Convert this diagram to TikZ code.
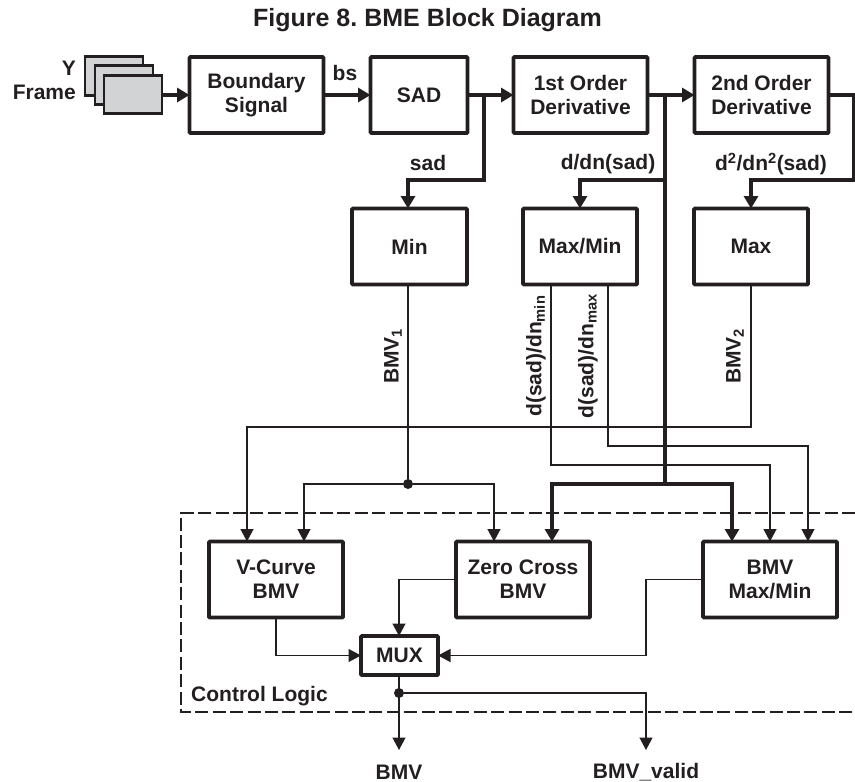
\documentclass[tikz,border=0pt]{standalone}
\usepackage{fontspec}
\setmainfont{Liberation Sans}
\usepackage{xcolor}
\usetikzlibrary{positioning, arrows.meta}
\definecolor{bmeInk}{HTML}{231F20}
\definecolor{bmeGrey}{HTML}{D1D3D4}
\frenchspacing
\tikzset{
  blockbox/.style={
    rectangle, rounded corners=0.8pt,
    draw=bmeInk, line width=3.6pt, outer sep=0pt,
    inner sep=0pt, fill=white,
    minimum width=#1, minimum height=76pt,
    align=center, text=bmeInk,
    font=\fontsize{21}{24}\selectfont\bfseries
  },
  blockbox/.default=134pt,
  framebox/.style={
    rectangle, draw=bmeInk, line width=2.8pt, fill=bmeGrey,
    outer sep=0pt, minimum width=58pt, minimum height=38.5pt
  },
  label/.style={text=bmeInk, inner sep=0pt, align=center, font=\fontsize{21}{24}\selectfont\bfseries},
  thinarrow/.style={
    -{Triangle[length=12.5pt, width=13pt]},
    bmeInk, line width=1.3pt
  },
  thinline/.style={bmeInk, line width=1.3pt},
  thickarrow/.style={
    -{Triangle[length=12.5pt, width=14pt]},
    bmeInk, line width=4.6pt
  },
  thickline/.style={bmeInk, line width=4.6pt},
  junction/.style={circle, fill=bmeInk, inner sep=0pt, minimum size=10pt}
}
\begin{document}
\begin{tikzpicture}[x=1pt, y=-1pt]
  \useasboundingbox (0,0) rectangle (855,782);
  \node[label, font=\fontsize{25}{30}\selectfont\bfseries] (title) at (427.5,20.5) {Figure 8. BME Block Diagram};
  % top row
  \node[blockbox] (boundary) at (256.5,95) {Boundary\\Signal};
  \node[blockbox=97pt, right=47pt of boundary] (sad) {SAD};
  \node[blockbox, right=46pt of sad] (first) {1st Order\\Derivative};
  \node[blockbox, right=47pt of first] (second) {2nd Order\\Derivative};
  % frames
  \node[framebox] (frameA) at (114,76) {};
  \node[framebox] (frameB) at (124,85) {};
  \node[framebox] (frameC) at (133,94.5) {};
  \node[label, anchor=east, text width=64pt, align=right] (yframe) at (76,80.5) {Y\\Frame};
  % second row
  \node[blockbox=115pt] (minb) at (409.5,246.5) {Min};
  \node[blockbox=114pt] (maxmin) at (580,246.5) {Max/Min};
  \node[blockbox=114pt] (maxb) at (751,246.5) {Max};
  % control logic
  \draw[bmeInk, line width=2.6pt, dash pattern=on 13pt off 4.4pt] (855,513) -- (181,513) -- (181,712) -- (855,712);
  \node[label, anchor=west] (control) at (191,696) {Control Logic};
  \node[blockbox] (vcurve) at (276,579.5) {V-Curve\\BMV};
  \node[blockbox] (zero) at (523,579.5) {Zero Cross\\BMV};
  \node[blockbox] (bmvmm) at (770,579.5) {BMV\\Max/Min};
  \node[blockbox=77pt, minimum height=39pt] (mux) at (399.5,655.5) {MUX};
  % outputs
  \node[label] (bmvout) at (399,772) {BMV};
  \node[label] (validout) at (646,772) {BMV\_valid};
  \coordinate (bmvtip) at (399,750);
  \coordinate (validtip) at (646,750);
  % junctions
  \coordinate (sadj) at (484,95);
  \coordinate (busj) at (665,95);
  \coordinate (busmid) at (665,180);
  \coordinate (busend) at (665,484);
  \node[junction] (minj) at (408,484) {};
  \node[junction] (muxj) at (399,693) {};
  % thick paths
  \draw[thickarrow] (frameC.east |- 0,95) -- (boundary.west |- 0,95);
  \draw[thickarrow] (boundary.east) -- (sad.west);
  \node[label] (bslabel) at (345,73) {bs};
  \draw[thickarrow] (sad.east) -- (first.west);
  \draw[thickarrow] (first.east) -- (second.west);
  \draw[thickarrow] (sadj) -- (484,180) -| (minb.north -| 408,0);
  \draw[thickarrow] (busmid) -| (maxmin.north);
  \draw[thickarrow] (second.east) -- (854,95) -- (854,180) -| (maxb.north);
  \draw[thickline] (busj) -- (busend);
  \draw[thickarrow] (busend) -| (zero.north -| 552,0);
  \draw[thickarrow] (busend) -| (bmvmm.north -| 732,0);
  \node[label] (sadlabel) at (428,163) {sad};
  \node[label] (dlabel) at (608,164) {d/dn(sad)};
  \node[label] (ddlabel) at (771,164) {d\textsuperscript{2}/dn\textsuperscript{2}(sad)};
  % thin paths
  \draw[thinline] (408,285) -- (minj);
  \draw[thinarrow] (minj) -| (vcurve.north -| 304,0);
  \draw[thinarrow] (minj) -| (zero.north -| 494,0);
  \draw[thinarrow] (maxb.south) -- (751,427) -| (vcurve.north -| 247,0);
  \draw[thinarrow] (551,285) -- (551,465) -| (bmvmm.north);
  \draw[thinarrow] (608,285) -- (608,446) -| (bmvmm.north -| 808,0);
  \node[label, rotate=90] (bmvone) at (393,356) {BMV\textsubscript{1}};
  \node[label, rotate=90] (dmin) at (536,356) {d(sad)/dn\textsubscript{min}};
  \node[label, rotate=90] (dmax) at (588,356) {d(sad)/dn\textsubscript{max}};
  \node[label, rotate=90] (bmvtwo) at (735,356) {BMV\textsubscript{2}};
  \draw[thinarrow] (vcurve.south) |- (mux.west);
  \draw[thinarrow] (zero.west) -| (mux.north -| 399,0);
  \draw[thinarrow] (bmvmm.west) -- (646,579.5) |- (mux.east);
  \draw[thinarrow] (mux.south -| 399,0) -- (bmvtip);
  \draw[thinarrow] (muxj) -| (validtip);
\end{tikzpicture}
\end{document}
